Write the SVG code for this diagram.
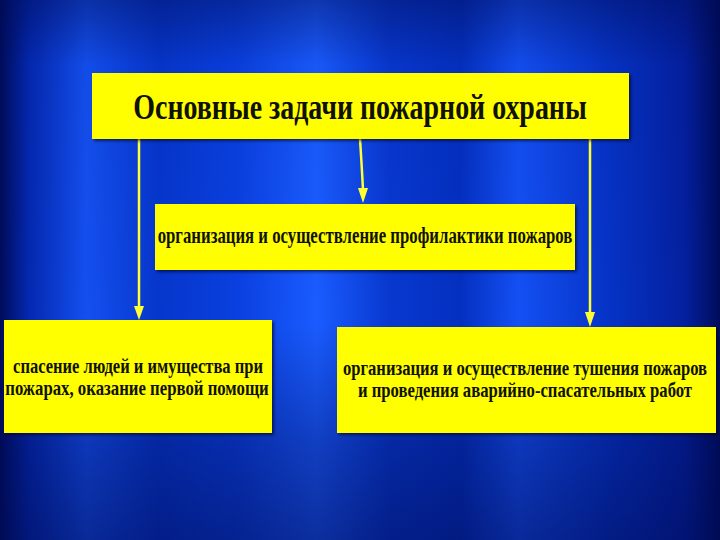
<svg xmlns="http://www.w3.org/2000/svg" width="720" height="540" viewBox="0 0 720 540">
<defs>
<linearGradient id="bgH" x1="0" y1="0" x2="1" y2="0">
<stop offset="0" stop-color="#000c5a"/>
<stop offset="0.04" stop-color="#0428b0"/>
<stop offset="0.12" stop-color="#1450f0"/>
<stop offset="0.22" stop-color="#0636cc"/>
<stop offset="0.33" stop-color="#0a40e0"/>
<stop offset="0.44" stop-color="#1a5cff"/>
<stop offset="0.54" stop-color="#0838d0"/>
<stop offset="0.64" stop-color="#0430c0"/>
<stop offset="0.72" stop-color="#1450f4"/>
<stop offset="0.84" stop-color="#0634c8"/>
<stop offset="0.95" stop-color="#0420a0"/>
<stop offset="1" stop-color="#000c5a"/>
</linearGradient>
<linearGradient id="bgV" x1="0" y1="0" x2="0" y2="1">
<stop offset="0" stop-color="#000a50" stop-opacity="0.45"/>
<stop offset="0.12" stop-color="#000a50" stop-opacity="0.05"/>
<stop offset="0.6" stop-color="#000a50" stop-opacity="0"/>
<stop offset="0.82" stop-color="#000a50" stop-opacity="0.35"/>
<stop offset="1" stop-color="#000a50" stop-opacity="0.55"/>
</linearGradient>
<filter id="sh" x="-5%" y="-5%" width="110%" height="115%">
<feDropShadow dx="2" dy="2" stdDeviation="1.5" flood-color="#000022" flood-opacity="0.6"/>
</filter>
</defs>
<style>
.box{fill:#ffff00;filter:url(#sh)}
.t{font-family:"Liberation Serif","DejaVu Serif",serif;font-weight:bold;fill:#111100;text-anchor:middle}
.s{font-size:21px}
.conn{stroke:#ffff33;stroke-width:2.5;fill:none}
.head{fill:#ffff33}
</style>
<rect width="720" height="540" fill="url(#bgH)"/>
<rect width="720" height="540" fill="url(#bgV)"/>

<g id="connectors">
<path class="conn" d="M139,139 L139,308"/>
<path class="head" d="M134,306 L144,306 L139,320 Z"/>
<path class="conn" d="M360,139 Q362,170 363,190"/>
<path class="head" d="M358,188 L368,188 L363,203 Z"/>
<path class="conn" d="M590,139 L590,314"/>
<path class="head" d="M585,312 L595,312 L590,327 Z"/>
</g>

<g id="title">
<rect class="box" x="92" y="73" width="537" height="66"/>
<text class="t" transform="translate(360,119) scale(0.82,1)" x="0" y="0" font-size="36" textLength="553" lengthAdjust="spacingAndGlyphs">Основные задачи пожарной охраны</text>
</g>

<g id="prevention">
<rect class="box" x="155" y="204" width="420" height="66"/>
<text class="t" transform="translate(365,243) scale(0.75,1)" x="0" y="0" font-size="23" textLength="553" lengthAdjust="spacingAndGlyphs">организация и осуществление профилактики пожаров</text>
</g>

<g id="rescue">
<rect class="box" x="4" y="320" width="268" height="113"/>
<text class="t s" transform="translate(138,373) scale(0.85,1)" x="0" y="0" textLength="294" lengthAdjust="spacingAndGlyphs">спасение людей и имущества при</text>
<text class="t s" transform="translate(137,395) scale(0.85,1)" x="0" y="0" textLength="310" lengthAdjust="spacingAndGlyphs">пожарах, оказание первой помощи</text>
</g>

<g id="firefighting">
<rect class="box" x="337" y="327" width="379" height="106"/>
<text class="t s" transform="translate(525,375) scale(0.8,1)" x="0" y="0" textLength="455" lengthAdjust="spacingAndGlyphs">организация и осуществление тушения пожаров</text>
<text class="t s" transform="translate(525,397) scale(0.85,1)" x="0" y="0" textLength="393" lengthAdjust="spacingAndGlyphs">и проведения аварийно-спасательных работ</text>
</g>
</svg>
